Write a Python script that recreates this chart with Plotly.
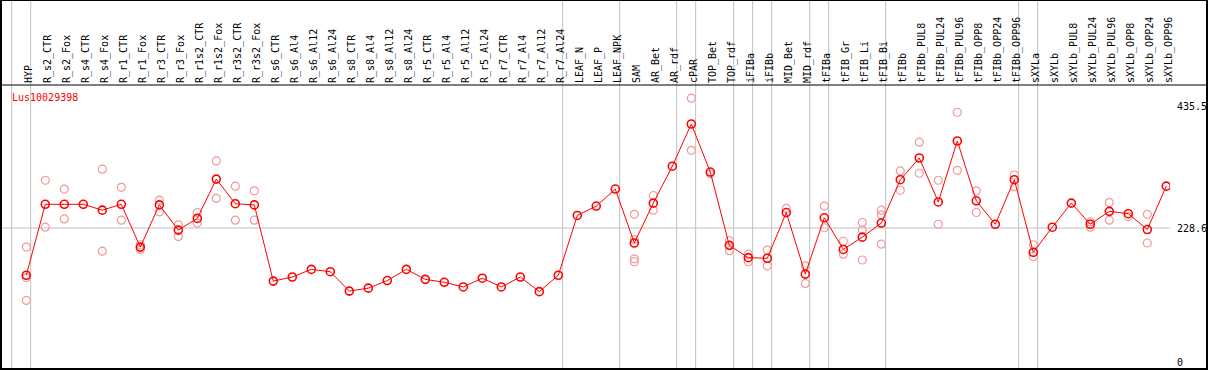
import plotly.graph_objects as go

categories = [
    "HYP", "R_s2_CTR", "R_s2_Fox", "R_s4_CTR", "R_s4_Fox", "R_r1_CTR", "R_r1_Fox",
    "R_r3_CTR", "R_r3_Fox", "R_r1s2_CTR", "R_r1s2_Fox", "R_r3s2_CTR", "R_r3s2_Fox",
    "R_s6_CTR", "R_s6_Al4", "R_s6_Al12", "R_s6_Al24", "R_s8_CTR", "R_s8_Al4",
    "R_s8_Al12", "R_s8_Al24", "R_r5_CTR", "R_r5_Al4", "R_r5_Al12", "R_r5_Al24",
    "R_r7_CTR", "R_r7_Al4", "R_r7_Al12", "R_r7_Al24", "LEAF_N", "LEAF_P", "LEAF_NPK",
    "SAM", "AR_Bet", "AR_rdf", "cPAR", "TOP_Bet", "TOP_rdf", "iFIBa", "iFIBb",
    "MID_Bet", "MID_rdf", "tFIBa", "tFIB_Gr", "tFIB_Li", "tFIB_Bi", "tFIBb",
    "tFIBb_PUL8", "tFIBb_PUL24", "tFIBb_PUL96", "tFIBb_OPP8", "tFIBb_OPP24",
    "tFIBb_OPP96", "sXYLa", "sXYLb", "sXYLb_PUL8", "sXYLb_PUL24", "sXYLb_PUL96",
    "sXYLb_OPP8", "sXYLb_OPP24", "sXYLb_OPP96",
]

mean_values = [
    148, 269, 269, 269, 259, 269, 196, 268, 225, 245, 312, 270, 268,
    138, 145, 158, 154, 121, 126, 139, 158, 141, 136, 128, 143, 128, 145, 120, 148,
    250, 266, 295, 203, 271, 334, 406, 324, 199, 178, 177, 255, 150, 246, 192, 213,
    237, 311, 348, 273, 377, 275, 235, 311, 187, 230, 271, 235, 257, 253, 226, 300,
]

replicate_values = [
    [196, 144, 105], [310, 230], [295, 244], [], [329, 189], [298, 242], [192, 200],
    [276, 256], [234, 214], [255, 237], [343, 279], [300, 242], [292, 242],
    [], [], [], [], [], [], [], [], [], [], [], [], [], [], [], [],
    [], [], [], [252, 209, 176, 171], [284, 259], [], [450, 361], [321], [207, 190],
    [184, 171], [191, 164], [262], [164, 134], [266, 229], [206, 184],
    [238, 225, 174], [259, 251, 201], [326, 293], [375, 322], [310, 235], [426, 327],
    [292, 255], [], [319, 299], [200, 180], [], [], [239, 230], [272, 242], [248],
    [252, 203], [],
]

y_tick_values = [0, 228.6, 435.5]
y_tick_labels = ["0", "228.6", "435.5"]
gene_label = "Lus10029398"

# categories after which a divider line is drawn (None = before the first one)
group_ends = [None, "HYP", "R_r7_Al24", "LEAF_NPK", "AR_rdf", "cPAR", "TOP_rdf",
              "iFIBa", "iFIBb", "MID_rdf", "tFIBa", "tFIB_Bi", "tFIBb_OPP96",
              "sXYLa", "sXYLb_OPP96"]

FONT = "DejaVu Sans Mono"
GRID = "#c0c0c0"
W, H = 1209, 370
L, R, T, B = 1, 39, 85, 1
X_RANGE = [-1.332, 60.195]
Y_RANGE = [-11.9, 472.5]
DIV_OFFSET = 0.23

rep_x, rep_y = [], []
for cat, reps in zip(categories, replicate_values):
    for v in reps:
        rep_x.append(cat)
        rep_y.append(v)

fig = go.Figure()
fig.add_trace(go.Scatter(
    x=rep_x, y=rep_y, mode="markers",
    marker=dict(symbol="circle-open", size=8, color="#f09a9a", line=dict(width=1.2)),
    hoverinfo="skip", showlegend=False,
))
fig.add_trace(go.Scatter(
    x=categories, y=mean_values, mode="lines+markers",
    line=dict(color="#ff0000", width=1),
    marker=dict(symbol="circle-open", size=8, color="#ff0000", line=dict(width=1.6)),
    showlegend=False,
))

plot_w = W - L - R
plot_h = H - T - B
top_paper = (H - B) / plot_h
right_paper = (1207 - L) / plot_w

shapes = []
for g in group_ends:
    idx = -1 if g is None else categories.index(g)
    xpos = idx + DIV_OFFSET
    shapes.append(dict(type="line", xref="x", yref="paper", x0=xpos, x1=xpos,
                       y0=0, y1=top_paper, line=dict(color=GRID, width=1), layer="below"))
shapes.append(dict(type="line", xref="paper", yref="y", x0=0, x1=1,
                   y0=y_tick_values[1], y1=y_tick_values[1],
                   line=dict(color=GRID, width=1), layer="below"))
# header separator
shapes.append(dict(type="line", xref="paper", yref="paper", x0=0, x1=right_paper,
                   y0=1, y1=1, line=dict(color="black", width=1.2)))
# outer frame
shapes.append(dict(type="rect", xref="paper", yref="paper", x0=0, x1=right_paper,
                   y0=0, y1=top_paper, line=dict(color="black", width=2)))

fig.update_layout(
    template="none",
    width=W, height=H,
    margin=dict(l=L, r=R, t=T, b=B, pad=0),
    paper_bgcolor="white", plot_bgcolor="white",
    font=dict(family=FONT, size=10, color="black"),
    shapes=shapes,
    xaxis=dict(
        type="category", categoryorder="array", categoryarray=categories,
        range=X_RANGE, side="top", tickangle=-90, dtick=1, automargin=False,
        showgrid=False, zeroline=False, showline=False, ticks="",
        ticklabelshift=2, ticklabelstandoff=1,
        tickfont=dict(family=FONT, size=10, color="black"),
    ),
    yaxis=dict(
        range=Y_RANGE, side="right", tickmode="array", automargin=False,
        tickvals=y_tick_values, ticktext=y_tick_labels,
        showgrid=False, zeroline=False, showline=False, ticks="",
        ticklabelstandoff=6,
        tickfont=dict(family=FONT, size=10, color="black"),
    ),
    annotations=[dict(
        text=gene_label, xref="paper", yref="paper",
        x=(10 - L) / plot_w, y=(H - B - 97) / plot_h,
        xanchor="left", yanchor="middle", showarrow=False,
        font=dict(family=FONT, size=10, color="#ff0000"),
    )],
)

fig.write_html(
    "out.html",
    config={"displayModeBar": False},
    post_script="document.body.style.margin='0';document.body.style.padding='0';document.body.style.overflow='hidden';",
)
